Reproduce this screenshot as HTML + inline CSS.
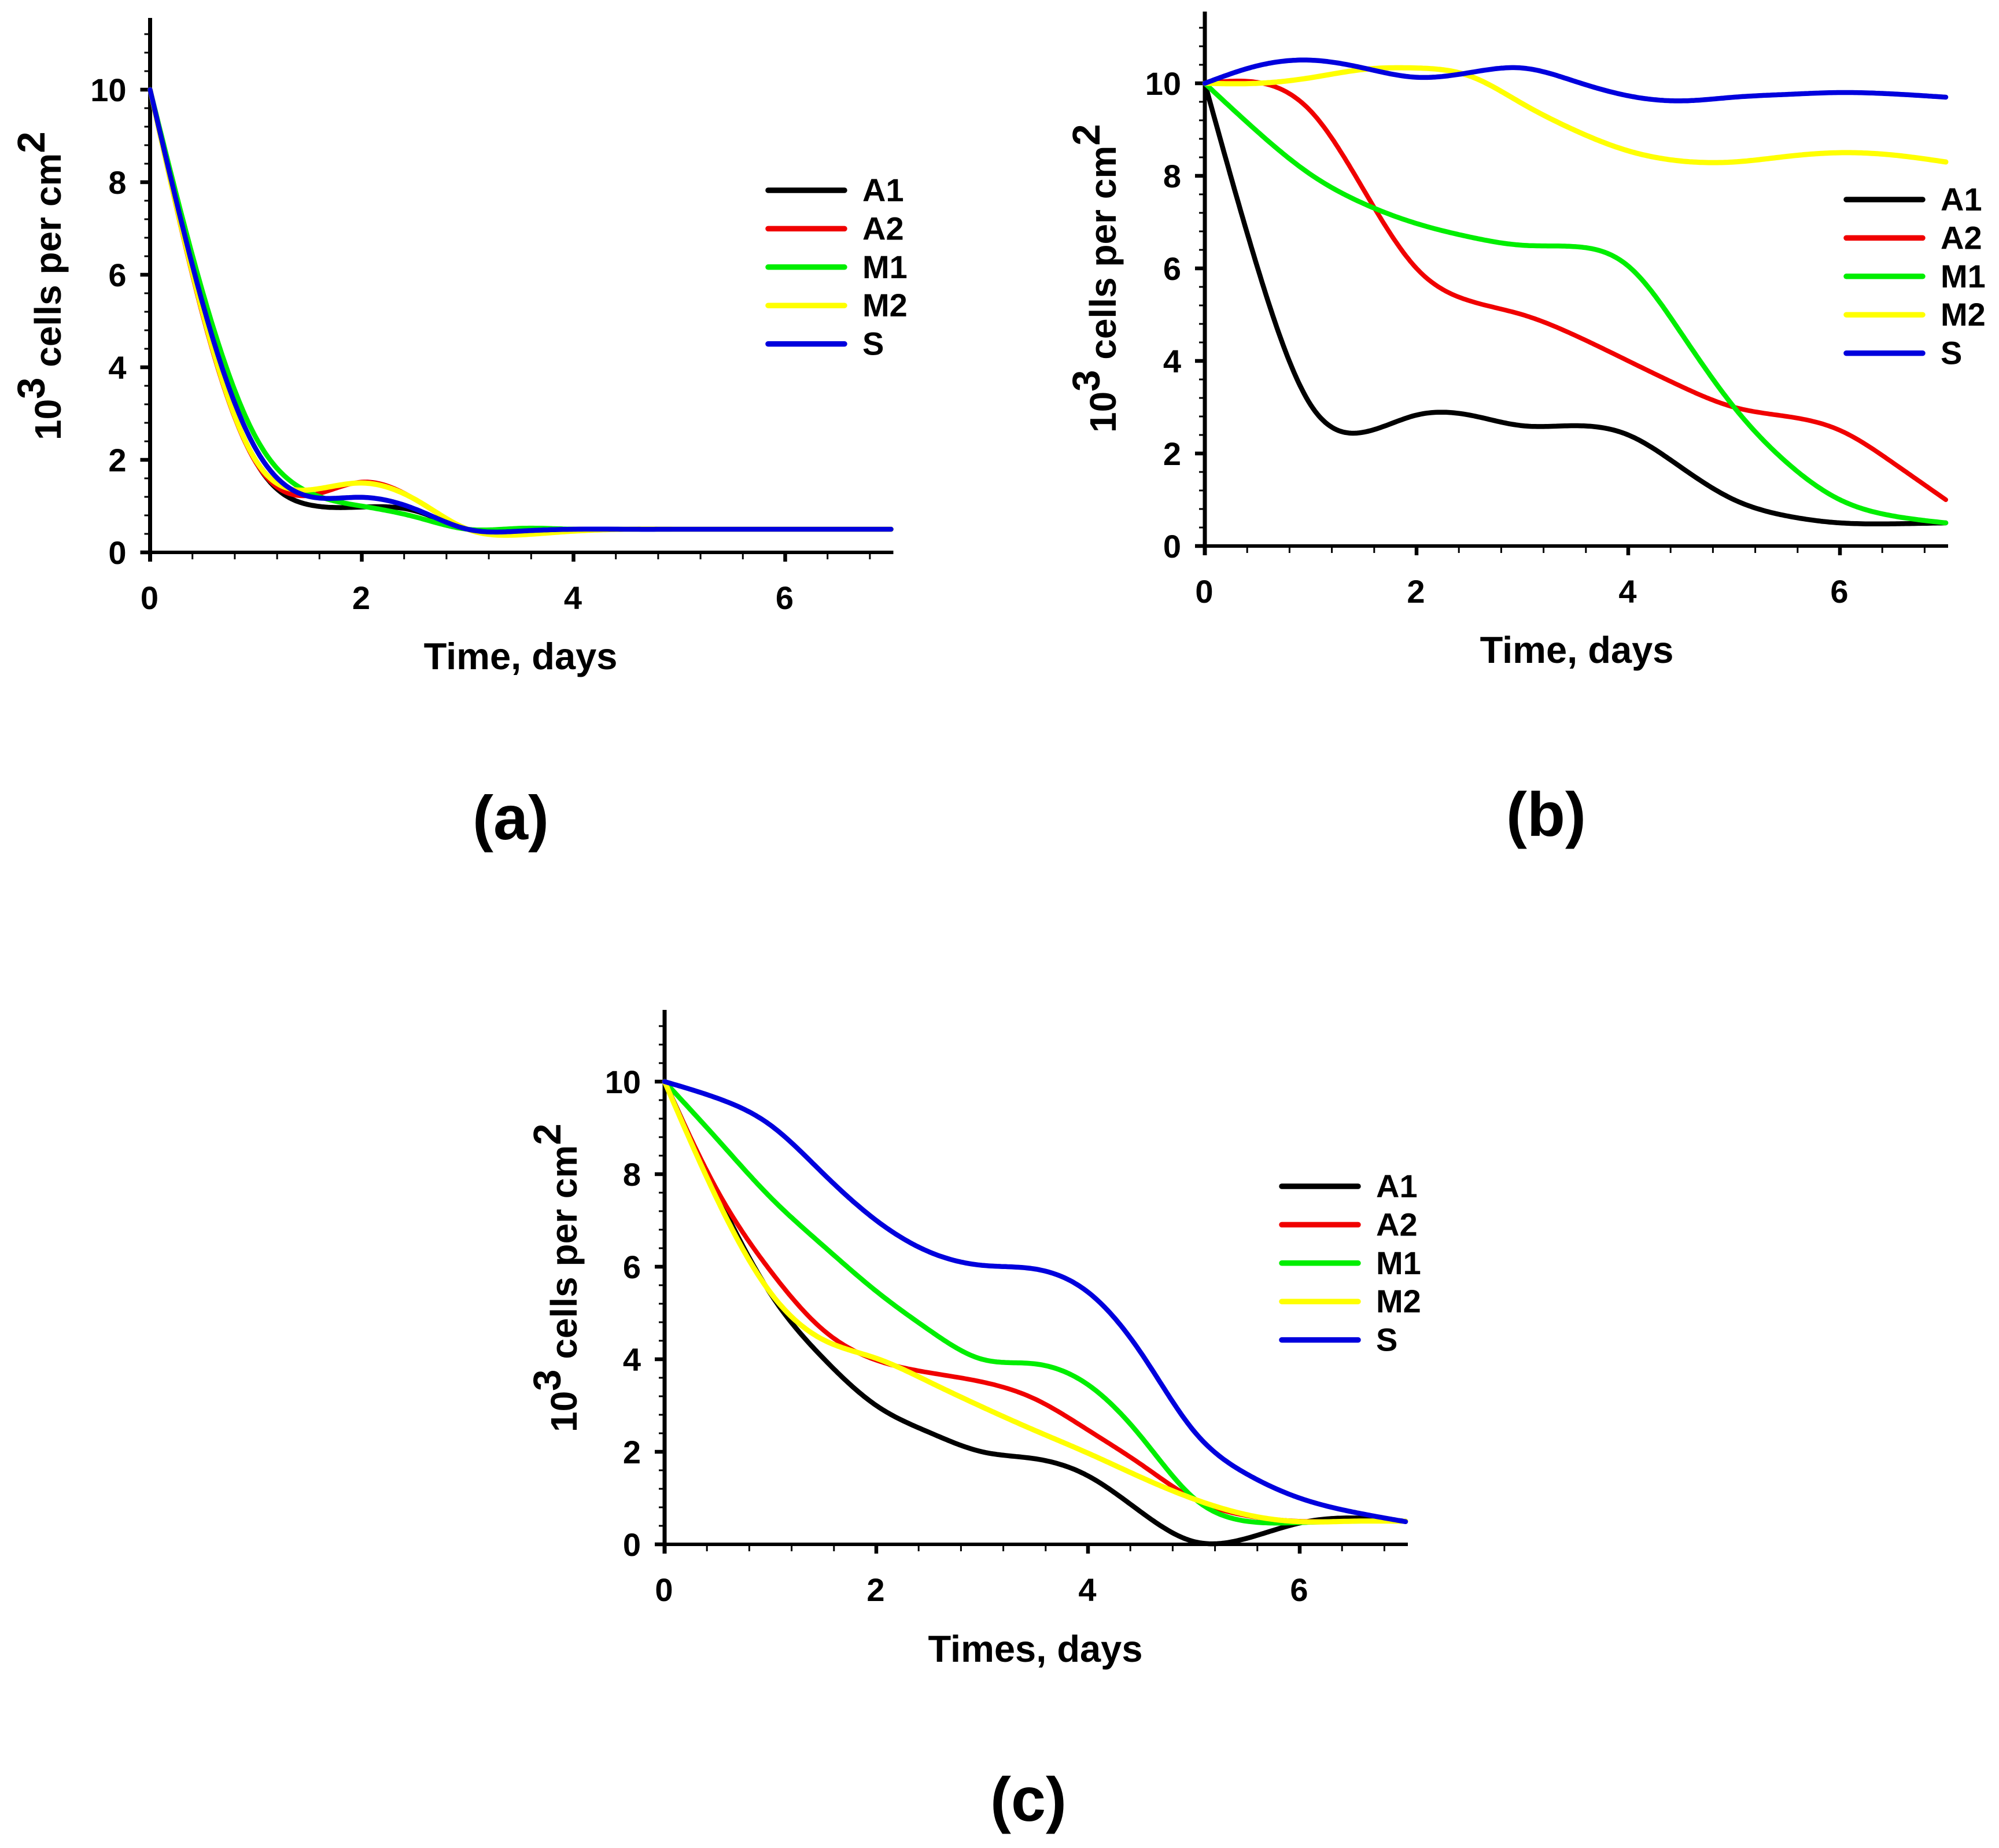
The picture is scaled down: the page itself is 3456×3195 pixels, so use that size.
<!DOCTYPE html>
<html lang="en">
<head>
<meta charset="utf-8">
<title>Cell density over time</title>
<style>
html,body{margin:0;padding:0;background:#fff;}
svg{display:block;}
text{font-family:"Liberation Sans",Arial,sans-serif;font-weight:700;fill:#000;}
.axis-title{font-size:65px;}
.y-title{font-size:64px;}
.sup{font-size:67px;}
.panel-letter{font-size:108px;text-anchor:middle;}
</style>
</head>
<body>
<svg id="figure" xmlns="http://www.w3.org/2000/svg" width="3456" height="3195" viewBox="0 0 3456 3195">
  <rect x="0" y="0" width="3456" height="3195" fill="#fff"/>

  <g id="panel-a">
    <text class="y-title" transform="translate(105,761) rotate(-90)">10<tspan class="sup" dy="-28">3</tspan><tspan dy="28"> cells per cm</tspan><tspan class="sup" dy="-28">2</tspan></text>
    <text class="axis-title" x="900" y="1157" text-anchor="middle">Time, days</text>
    <text class="panel-letter" x="883" y="1451">(a)</text>
  </g>

  <g id="panel-b">
    <text class="y-title" transform="translate(1929,748) rotate(-90)">10<tspan class="sup" dy="-28">3</tspan><tspan dy="28"> cells per cm</tspan><tspan class="sup" dy="-28">2</tspan></text>
    <text class="axis-title" x="2726" y="1146" text-anchor="middle">Time, days</text>
    <text class="panel-letter" x="2673" y="1445">(b)</text>
  </g>

  <g id="panel-c">
    <text class="y-title" transform="translate(997,2476) rotate(-90)">10<tspan class="sup" dy="-28">3</tspan><tspan dy="28"> cells per cm</tspan><tspan class="sup" dy="-28">2</tspan></text>
    <text class="axis-title" x="1790" y="2873" text-anchor="middle">Times, days</text>
    <text class="panel-letter" x="1778" y="3148">(c)</text>
  </g>
</svg>

<script>
const days = [0, 0.5, 1, 1.5, 2, 2.5, 3, 3.5, 4, 4.5, 5, 5.5, 6, 6.5, 7];
const xTickLabels = [0, 2, 4, 6];
const yTickLabels = [0, 2, 4, 6, 8, 10];
const seriesNames = ['A1', 'A2', 'M1', 'M2', 'S'];

const panelA_A1 = [10, 5.15, 1.95, 1.03, 0.98, 0.9, 0.5, 0.47, 0.5, 0.5, 0.5, 0.5, 0.5, 0.5, 0.5];
const panelA_A2 = [10, 5.1, 1.94, 1.23, 1.52, 1.15, 0.5, 0.38, 0.48, 0.5, 0.5, 0.5, 0.5, 0.5, 0.5];
const panelA_M1 = [10, 5.6, 2.48, 1.3, 1.0, 0.77, 0.5, 0.52, 0.5, 0.5, 0.5, 0.5, 0.5, 0.5, 0.5];
const panelA_M2 = [10, 5.15, 1.98, 1.35, 1.5, 1.15, 0.5, 0.38, 0.46, 0.5, 0.5, 0.5, 0.5, 0.5, 0.5];
const panelA_S = [10, 5.35, 2.23, 1.21, 1.19, 0.94, 0.5, 0.46, 0.5, 0.5, 0.5, 0.5, 0.5, 0.5, 0.5];

const panelB_A1 = [10, 6.0, 3.05, 2.46, 2.83, 2.83, 2.6, 2.6, 2.4, 1.7, 1.0, 0.65, 0.5, 0.48, 0.5];
const panelB_A2 = [10, 10.02, 9.4, 7.7, 6, 5.3, 5, 4.55, 4, 3.45, 3, 2.8, 2.5, 1.8, 1];
const panelB_M1 = [10, 8.95, 8.03, 7.4, 6.97, 6.68, 6.5, 6.47, 6.05, 4.6, 3, 1.8, 1, 0.65, 0.5];
const panelB_M2 = [10, 10, 10.12, 10.3, 10.33, 10.16, 9.56, 8.98, 8.54, 8.32, 8.3, 8.42, 8.5, 8.45, 8.3];
const panelB_S = [10, 10.38, 10.5, 10.33, 10.13, 10.23, 10.33, 10.04, 9.73, 9.62, 9.7, 9.76, 9.8, 9.77, 9.7];

const panelC_A1 = [10, 7.54, 5.42, 4.02, 3, 2.42, 2, 1.85, 1.48, 0.7, 0.06, 0.13, 0.46, 0.57, 0.5];
const panelC_A2 = [10, 7.64, 5.91, 4.63, 3.98, 3.71, 3.51, 3.14, 2.47, 1.73, 0.98, 0.62, 0.5, 0.5, 0.5];
const panelC_M1 = [10, 8.75, 7.5, 6.45, 5.47, 4.63, 4, 3.9, 3.45, 2.33, 1, 0.5, 0.47, 0.5, 0.5];
const panelC_M2 = [10, 7.44, 5.44, 4.42, 4.02, 3.51, 2.97, 2.46, 1.97, 1.45, 0.98, 0.64, 0.49, 0.5, 0.5];
const panelC_S = [10, 9.64, 9.06, 8.01, 7, 6.32, 6.03, 5.95, 5.45, 4.14, 2.45, 1.52, 1, 0.7, 0.49];

const SVG_NS = 'http://www.w3.org/2000/svg';
const seriesColors = ['#000000', '#f00000', '#00ee00', '#ffff00', '#0000dd'];
const strokeWidths = [8.5, 8, 8.5, 9, 8.5];
const X_MAX = 7, Y_MAX = 11.5, MINOR_STEP = 0.4;
const PX_PER_DAY = 183, PX_PER_UNIT = 80;

function el(parent, tag, props) {
  const node = document.createElementNS(SVG_NS, tag);
  for (const key in props) node.setAttribute(key, props[key]);
  parent.appendChild(node);
  return node;
}

// Natural cubic spline through (xs, ys), evaluated at t.
function splineEvaluator(xs, ys) {
  const n = xs.length;
  const m = new Array(n).fill(0);
  const c = new Array(n).fill(0);
  const d = new Array(n).fill(0);
  for (let i = 1; i < n - 1; i++) {
    const h0 = xs[i] - xs[i - 1], h1 = xs[i + 1] - xs[i];
    const rhs = 6 * ((ys[i + 1] - ys[i]) / h1 - (ys[i] - ys[i - 1]) / h0);
    const den = 2 * (h0 + h1) - h0 * c[i - 1];
    c[i] = h1 / den;
    d[i] = (rhs - h0 * d[i - 1]) / den;
  }
  for (let i = n - 2; i > 0; i--) m[i] = d[i] - c[i] * m[i + 1];
  return function (t) {
    let i = 0;
    while (i < n - 2 && t > xs[i + 1]) i++;
    const h = xs[i + 1] - xs[i];
    const a = (xs[i + 1] - t) / h, b = (t - xs[i]) / h;
    return a * ys[i] + b * ys[i + 1] + ((a * a * a - a) * m[i] + (b * b * b - b) * m[i + 1]) * h * h / 6;
  };
}

function drawPanel(id, x0, y0, allSeries, legend) {
  const group = document.getElementById(id);
  const sx = function (v) { return x0 + v * PX_PER_DAY; };
  const sy = function (v) { return y0 - v * PX_PER_UNIT; };

  const minorCountX = Math.floor(X_MAX / MINOR_STEP + 1e-6);
  for (let i = 1; i <= minorCountX; i++) {
    const v = i * MINOR_STEP;
    if (Math.abs(v / 2 - Math.round(v / 2)) < 1e-6) continue;
    const t = el(group, 'line', { x1: sx(v), x2: sx(v), y1: y0, y2: y0 + 12, stroke: '#000', 'stroke-width': 3 });
    
    
  }
  const minorCountY = Math.floor(Y_MAX / MINOR_STEP + 1e-6);
  for (let i = 1; i <= minorCountY; i++) {
    const v = i * MINOR_STEP;
    if (Math.abs(v / 2 - Math.round(v / 2)) < 1e-6) continue;
    const t = el(group, 'line', { x1: x0 - 10, x2: x0, y1: sy(v), y2: sy(v), stroke: '#000', 'stroke-width': 3 });
    
    
  }

  xTickLabels.forEach(function (v) {
    const t = el(group, 'line', { x1: sx(v), x2: sx(v), y1: y0, y2: y0 + 16, stroke: '#000', 'stroke-width': 6.5 });
    
    
    const label = el(group, 'text', { x: sx(v) - 1, y: y0 + 98, 'text-anchor': 'middle', 'font-size': 56 });
    label.textContent = String(v);
    
    
  });
  yTickLabels.forEach(function (v) {
    const t = el(group, 'line', { x1: x0 - 17, x2: x0, y1: sy(v), y2: sy(v), stroke: '#000', 'stroke-width': 6.5 });
    
    
    const label = el(group, 'text', { x: x0 - 41, y: sy(v) + 20, 'text-anchor': 'end', 'font-size': 56 });
    label.textContent = String(v);
    
    
  });

  const yAxis = el(group, 'line', { x1: x0, x2: x0, y1: sy(Y_MAX) - 4, y2: y0 + 16, stroke: '#000', 'stroke-width': 7 });
  
  
  const xAxis = el(group, 'line', { x1: x0 - 3, x2: sx(X_MAX) + 4, y1: y0, y2: y0, stroke: '#000', 'stroke-width': 6 });
  
  

  allSeries.forEach(function (values, s) {
    const curve = splineEvaluator(days, values);
    let d = '';
    const steps = 350;
    for (let i = 0; i <= steps; i++) {
      const t = X_MAX * i / steps;
      d += (i ? 'L' : 'M') + sx(t).toFixed(1) + ' ' + sy(curve(t)).toFixed(1);
    }
    const path = el(group, 'path', {
      d: d,
      fill: 'none',
      stroke: seriesColors[s],
      'stroke-width': strokeWidths[s],
      'stroke-linecap': 'round',
      'stroke-linejoin': 'round'
    });
    
    
  });

  seriesNames.forEach(function (name, s) {
    const y = legend.y + s * legend.gap;
    const swatch = el(group, 'line', {
      x1: legend.x, x2: legend.x + 132, y1: y, y2: y,
      stroke: seriesColors[s], 'stroke-width': 9.5, 'stroke-linecap': 'round'
    });
    
    
    const label = el(group, 'text', { x: legend.x + 163, y: y + 19, 'font-size': 56 });
    label.textContent = name;
    
    
  });
}

drawPanel('panel-a', 259.5, 955, [panelA_A1, panelA_A2, panelA_M1, panelA_M2, panelA_S], { x: 1328, y: 329, gap: 66.4 });
drawPanel('panel-b', 2083, 944, [panelB_A1, panelB_A2, panelB_M1, panelB_M2, panelB_S], { x: 3192, y: 345, gap: 66.4 });
drawPanel('panel-c', 1149, 2670, [panelC_A1, panelC_A2, panelC_M1, panelC_M2, panelC_S], { x: 2216, y: 2051, gap: 66.4 });
</script>
</body>
</html>
